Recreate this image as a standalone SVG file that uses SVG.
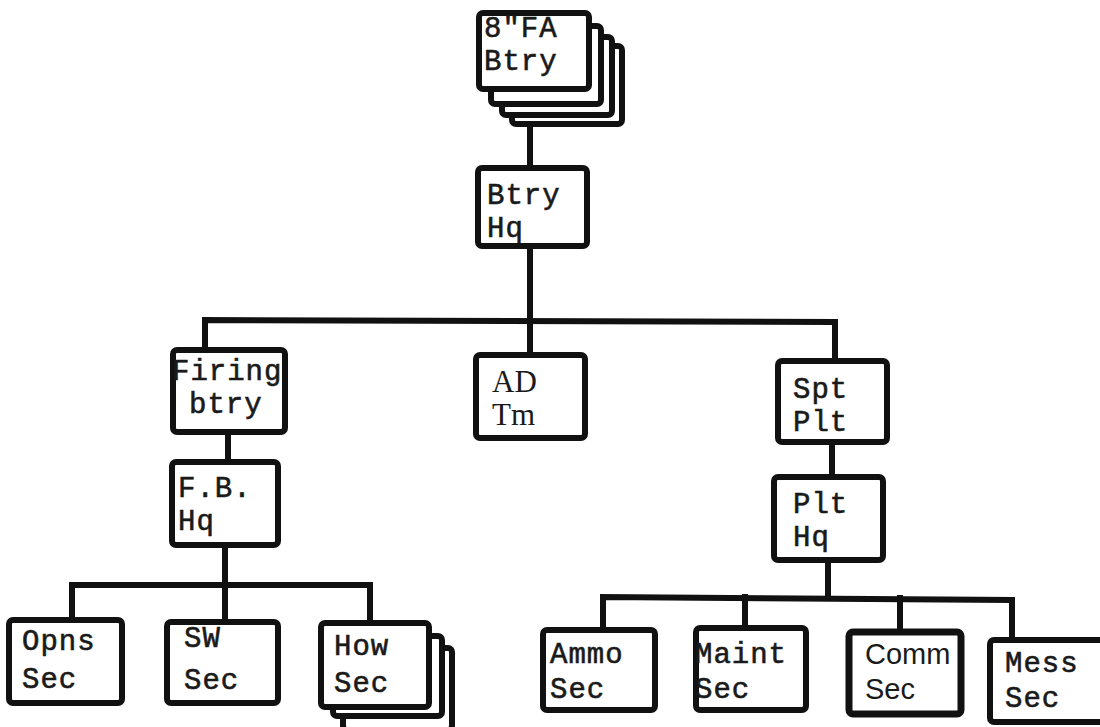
<svg xmlns="http://www.w3.org/2000/svg" width="1100" height="727" viewBox="0 0 1100 727">
<style>
.b{fill:#fff;stroke:#111;stroke-width:6;stroke-linejoin:round}
.c{fill:none;stroke:#111;stroke-width:6;stroke-linecap:square}
.t{font-family:"Liberation Mono",monospace;font-size:29px;fill:#1a1a1a;stroke:#1a1a1a;stroke-width:0.6;letter-spacing:1px}
.s{font-family:"Liberation Serif",serif;font-size:31px;fill:#1a1a1a}
.h{font-family:"Liberation Sans",sans-serif;font-size:29px;fill:#1a1a1a}
</style>
<rect width="1100" height="727" fill="#fff"/>
<g id="connectors">
<path class="c" d="M530 90V170"/>
<path class="c" d="M530 246V320"/>
<path class="c" d="M205 350V320L835 322V360"/>
<path class="c" d="M530 320V355"/>
<path class="c" d="M228 432V462"/>
<path class="c" d="M832 442V477"/>
<path class="c" d="M225 545V585"/>
<path class="c" d="M72 620V585H370V623"/>
<path class="c" d="M225 585V622"/>
<path class="c" d="M828 560V597"/>
<path class="c" d="M603 630V597L1012 600V640"/>
<path class="c" d="M745 597V628"/>
<path class="c" d="M900 598V632"/>
</g>
<g id="n-fa-btry">
<rect class="b" x="512" y="46" width="110" height="78" rx="4"/>
<rect class="b" x="502" y="37" width="110" height="78" rx="4"/>
<rect class="b" x="491" y="26" width="110" height="78" rx="4"/>
<rect class="b" x="479" y="13" width="110" height="76" rx="4"/>
<text class="t" x="484" y="37">8"FA</text>
<text class="t" x="484" y="70">Btry</text>
</g>
<g id="n-btry-hq">
<rect class="b" x="478" y="168" width="109" height="78" rx="4"/>
<text class="t" x="487" y="204">Btry</text>
<text class="t" x="487" y="237">Hq</text>
</g>
<g id="n-firing-btry">
<rect class="b" x="173" y="350" width="112" height="82" rx="4"/>
<text class="t" x="172" y="380">Firing</text>
<text class="t" x="189" y="413">btry</text>
</g>
<g id="n-ad-tm">
<rect class="b" x="476" y="355" width="109" height="83" rx="4"/>
<text class="s" x="492" y="392">AD</text>
<text class="s" x="492" y="425">Tm</text>
</g>
<g id="n-spt-plt">
<rect class="b" x="778" y="361" width="109" height="81" rx="4"/>
<text class="t" x="793" y="398">Spt</text>
<text class="t" x="793" y="431">Plt</text>
</g>
<g id="n-fb-hq">
<rect class="b" x="172" y="462" width="106" height="83" rx="4"/>
<text class="t" x="178" y="497">F.B.</text>
<text class="t" x="178" y="530">Hq</text>
</g>
<g id="n-plt-hq">
<rect class="b" x="774" y="477" width="109" height="83" rx="4"/>
<text class="t" x="793" y="513">Plt</text>
<text class="t" x="793" y="546">Hq</text>
</g>
<g id="n-opns-sec">
<rect class="b" x="9" y="620" width="113" height="83" rx="4"/>
<text class="t" x="22" y="650">Opns</text>
<text class="t" x="22" y="688">Sec</text>
</g>
<g id="n-sw-sec">
<rect class="b" x="167" y="622" width="111" height="81" rx="4"/>
<text class="t" x="184" y="647">SW</text>
<text class="t" x="184" y="689">Sec</text>
</g>
<g id="n-how-sec">
<rect class="b" x="343" y="648" width="109" height="82" rx="4"/>
<rect class="b" x="333" y="636" width="109" height="80" rx="4"/>
<rect class="b" x="321" y="623" width="108" height="84" rx="4"/>
<text class="t" x="334" y="655">How</text>
<text class="t" x="334" y="692">Sec</text>
</g>
<g id="n-ammo-sec">
<rect class="b" x="543" y="630" width="112" height="80" rx="4"/>
<text class="t" x="550" y="663">Ammo</text>
<text class="t" x="550" y="698">Sec</text>
</g>
<g id="n-maint-sec">
<rect class="b" x="696" y="628" width="110" height="82" rx="4"/>
<text class="t" x="695" y="663">Maint</text>
<text class="t" x="695" y="698">Sec</text>
</g>
<g id="n-comm-sec">
<rect class="b" x="849" y="632" width="112" height="82" rx="4" style="stroke-width:7"/>
<text class="h" x="865" y="664">Comm</text>
<text class="h" x="865" y="699">Sec</text>
</g>
<g id="n-mess-sec">
<rect class="b" x="990" y="640" width="116" height="82" rx="4"/>
<text class="t" x="1005" y="672">Mess</text>
<text class="t" x="1005" y="707">Sec</text>
</g>
</svg>
